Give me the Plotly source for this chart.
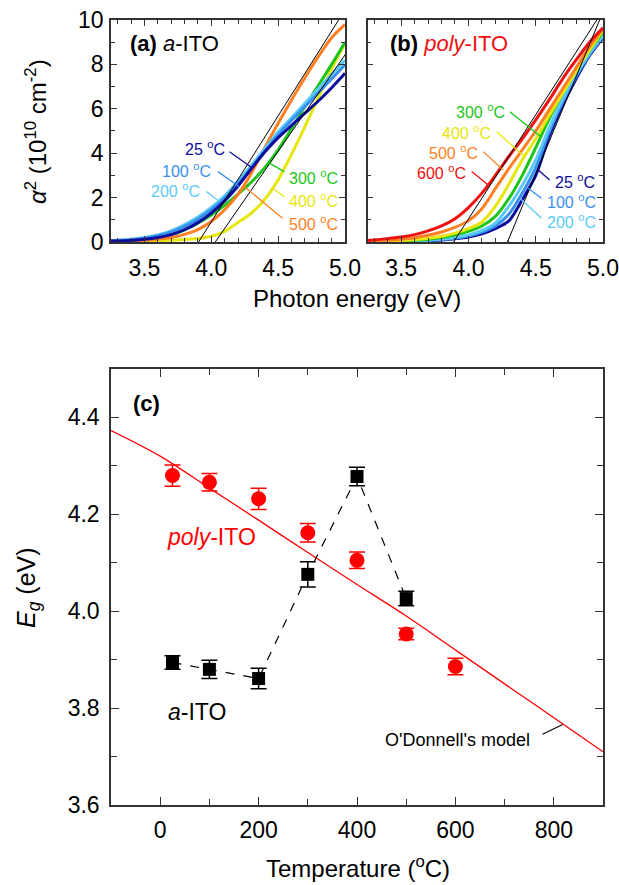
import plotly.graph_objects as go

# ---------------- data ----------------
energy = [3.25, 3.4, 3.5, 3.6, 3.7, 3.8, 3.9, 4.0, 4.1, 4.2, 4.3, 4.4, 4.5, 4.6, 4.7, 4.8, 4.9, 5.0]

# (a) a-ITO, alpha^2 (1e10 cm^-2)
a_25 = [0.04, 0.07, 0.12, 0.2, 0.33, 0.55, 0.87, 1.3, 1.85, 2.52, 3.3, 4.05, 4.7, 5.25, 5.8, 6.35, 6.95, 7.6]
a_100 = [0.05, 0.1, 0.17, 0.28, 0.45, 0.7, 1.03, 1.45, 1.97, 2.62, 3.35, 4.1, 4.82, 5.48, 6.1, 6.72, 7.35, 7.98]
a_200 = [0.06, 0.12, 0.2, 0.32, 0.5, 0.78, 1.12, 1.55, 2.08, 2.75, 3.45, 4.2, 4.95, 5.6, 6.25, 6.9, 7.55, 8.2]
a_300 = [0.04, 0.08, 0.13, 0.2, 0.33, 0.55, 0.85, 1.22, 1.65, 2.15, 2.7, 3.35, 4.15, 5.1, 6.1, 7.05, 8.0, 9.0]
a_400 = [0.01, 0.02, 0.03, 0.05, 0.08, 0.11, 0.16, 0.26, 0.48, 0.88, 1.3, 1.92, 2.8, 3.95, 5.2, 6.5, 7.8, 8.95]
a_500 = [0.02, 0.04, 0.07, 0.12, 0.2, 0.34, 0.56, 0.92, 1.45, 2.15, 3.1, 4.25, 5.35, 6.4, 7.4, 8.35, 9.2, 9.8]

# (b) poly-ITO
b_25 = [0.01, 0.01, 0.02, 0.03, 0.05, 0.09, 0.14, 0.22, 0.37, 0.6, 0.95, 1.9, 3.0, 4.75, 6.15, 7.35, 8.4, 9.2]
b_100 = [0.01, 0.02, 0.03, 0.04, 0.07, 0.11, 0.17, 0.27, 0.44, 0.72, 1.25, 2.2, 3.35, 4.95, 6.3, 7.45, 8.45, 9.25]
b_200 = [0.01, 0.02, 0.03, 0.05, 0.08, 0.13, 0.2, 0.32, 0.52, 0.85, 1.6, 2.55, 3.7, 5.15, 6.45, 7.55, 8.5, 9.3]
b_300 = [0.01, 0.03, 0.05, 0.08, 0.12, 0.2, 0.32, 0.48, 0.72, 1.15, 1.95, 3.0, 4.25, 5.55, 6.7, 7.75, 8.65, 9.45]
b_400 = [0.02, 0.04, 0.07, 0.11, 0.17, 0.26, 0.4, 0.6, 0.9, 1.6, 2.6, 3.7, 4.65, 5.7, 6.7, 7.7, 8.65, 9.55]
b_500 = [0.04, 0.08, 0.12, 0.19, 0.3, 0.45, 0.66, 0.95, 1.5, 2.4, 3.3, 4.15, 5.0, 5.95, 6.9, 7.85, 8.8, 9.6]
b_600 = [0.07, 0.15, 0.22, 0.33, 0.5, 0.72, 1.05, 1.55, 2.2, 3.0, 3.85, 4.65, 5.5, 6.4, 7.35, 8.2, 9.0, 9.65]

# Tauc-type tangent fits: x-intercept (eV) and slope
a_fit_intercept = [3.905, 4.03]
a_fit_slope = [9.55, 8.69]
b_fit_intercept = [3.89, 4.29]
b_fit_slope = [9.4, 14.6]

# (c) band gap vs temperature
temp_a = [25, 100, 200, 300, 400, 500]
eg_a = [3.894, 3.880, 3.861, 4.076, 4.278, 4.026]
err_a = [0.014, 0.019, 0.021, 0.026, 0.019, 0.015]
temp_p = [25, 100, 200, 300, 400, 500, 600]
eg_p = [4.280, 4.266, 4.232, 4.162, 4.105, 3.953, 3.886]
err_p = [0.022, 0.018, 0.022, 0.019, 0.017, 0.012, 0.017]
temp_model = [-100, 0, 100, 200, 300, 400, 500, 600, 700, 800, 900]
eg_model = [4.373, 4.32, 4.254, 4.188, 4.121, 4.055, 3.99, 3.92, 3.85, 3.78, 3.71]

# ---------------- style ----------------
FONT = "Liberation Sans, Arial, sans-serif"
C = {"25": "#0c0c9c", "100": "#3890ee", "200": "#5ccaf8", "300": "#1cc41c",
     "400": "#e6e60a", "500": "#ff7f22", "600": "#f01010"}
AX = "#333333"

fig = go.Figure()

def curve(x, y, col, xa, ya):
    fig.add_trace(go.Scatter(x=x, y=y, mode="lines", line=dict(color=col, width=3, shape="spline", smoothing=0.8),
                             xaxis=xa, yaxis=ya, showlegend=False, hoverinfo="skip"))

# panel (a) curves (draw order: back to front)
for lab, ys in [("400", a_400), ("300", a_300), ("500", a_500), ("200", a_200), ("100", a_100), ("25", a_25)]:
    curve(energy, ys, C[lab], "x", "y")
for e0, s in zip(a_fit_intercept, a_fit_slope):
    fig.add_trace(go.Scatter(x=[e0, 5.1], y=[0, s * (5.1 - e0)], mode="lines", line=dict(color="black", width=1),
                             xaxis="x", yaxis="y", showlegend=False, hoverinfo="skip"))

# panel (b) curves
for lab, ys in [("25", b_25), ("100", b_100), ("200", b_200), ("300", b_300), ("400", b_400), ("500", b_500), ("600", b_600)]:
    curve(energy, ys, C[lab], "x2", "y2")
for e0, s in zip(b_fit_intercept, b_fit_slope):
    fig.add_trace(go.Scatter(x=[e0, 5.1], y=[0, s * (5.1 - e0)], mode="lines", line=dict(color="black", width=1),
                             xaxis="x2", yaxis="y2", showlegend=False, hoverinfo="skip"))

# panel (c)
fig.add_trace(go.Scatter(x=temp_model, y=eg_model, mode="lines", line=dict(color="#ff0000", width=1.3, shape="spline"),
                         xaxis="x3", yaxis="y3", showlegend=False))
fig.add_trace(go.Scatter(x=temp_a, y=eg_a, mode="lines", line=dict(color="black", width=1.2, dash="dash"),
                         xaxis="x3", yaxis="y3", showlegend=False))
fig.add_trace(go.Scatter(x=temp_p, y=eg_p, mode="markers",
                         marker=dict(symbol="circle", size=15, color="#ff0000"),
                         error_y=dict(type="data", array=err_p, color="#ff0000", thickness=1.5, width=8),
                         xaxis="x3", yaxis="y3", showlegend=False))
fig.add_trace(go.Scatter(x=temp_a, y=eg_a, mode="markers",
                         marker=dict(symbol="square", size=13, color="black"),
                         error_y=dict(type="data", array=err_a, color="black", thickness=1.5, width=8),
                         xaxis="x3", yaxis="y3", showlegend=False))

# ---------------- axes ----------------
TF = dict(family=FONT, size=23, color="black")
common = dict(showgrid=False, zeroline=False, showline=True, linecolor=AX, linewidth=1.5, mirror="allticks",
              ticks="inside", ticklen=6, tickwidth=1.2, tickcolor=AX, tickfont=TF, automargin=False,
              ticklabeloverflow="allow")

Y_TOP = (0.7266, 0.9774)
fig.update_layout(
    xaxis=dict(common, domain=[0.1793, 0.5574], range=[3.25, 5.0], tickvals=[3.5, 4.0, 4.5, 5.0],
               ticktext=["3.5", "4.0", "4.5", "5.0"], anchor="y", ticklabelstandoff=5,
               minor=dict(ticks="inside", ticklen=4, dtick=0.1, tick0=3.3, tickcolor=AX, tickwidth=1)),
    yaxis=dict(common, domain=list(Y_TOP), range=[0, 10], dtick=2, anchor="x", ticklabelstandoff=1,
               minor=dict(ticks="inside", ticklen=4, dtick=1, tickcolor=AX, tickwidth=1)),
    xaxis2=dict(common, domain=[0.5937, 0.9742], range=[3.25, 5.0], tickvals=[3.5, 4.0, 4.5, 5.0],
                ticktext=["3.5", "4.0", "4.5", "5.0"], anchor="y2", ticklabelstandoff=5,
                minor=dict(ticks="inside", ticklen=4, dtick=0.1, tick0=3.3, tickcolor=AX, tickwidth=1)),
    yaxis2=dict(common, domain=list(Y_TOP), range=[0, 10], dtick=2, anchor="x2", showticklabels=False,
                minor=dict(ticks="inside", ticklen=4, dtick=1, tickcolor=AX, tickwidth=1)),
    xaxis3=dict(common, domain=[0.1793, 0.9742], range=[-100, 900], tickvals=[0, 200, 400, 600, 800],
                anchor="y3", ticklabelstandoff=4, ticklen=8,
                minor=dict(ticks="inside", ticklen=6, dtick=100, tick0=0, tickcolor=AX, tickwidth=1)),
    yaxis3=dict(common, domain=[0.0904, 0.5831], range=[3.6, 4.5], tickvals=[3.6, 3.8, 4.0, 4.2, 4.4],
                ticktext=["3.6", "3.8", "4.0", "4.2", "4.4"], anchor="x3", ticklen=8, ticklabelstandoff=5,
                minor=dict(ticks="inside", ticklen=6, dtick=0.1, tick0=3.6, tickcolor=AX, tickwidth=1)),
    width=619, height=885, margin=dict(l=0, r=0, t=0, b=0, autoexpand=False),
    paper_bgcolor="white", plot_bgcolor="white", showlegend=False,
    font=dict(family=FONT, color="black"),
)

ann = []
shapes = []

def label(x, y, text, col, xa, ya, anchor, size=16):
    ann.append(dict(x=x, y=y, xref=xa, yref=ya, text=text, showarrow=False, xanchor=anchor, yanchor="middle",
                    font=dict(family=FONT, size=size, color=col)))

def leader(x0, y0, x1, y1, col, xa, ya, w=1.3):
    shapes.append(dict(type="line", x0=x0, y0=y0, x1=x1, y1=y1, xref=xa, yref=ya, line=dict(color=col, width=w)))

deg = " <sup>o</sup>C"
# panel (a) labels
label(3.377, 8.92, "<b>(a)</b> <i>a</i>-ITO", "black", "x", "y", "left", 22)
label(4.115, 4.23, "25" + deg, C["25"], "x", "y", "right")
label(4.01, 3.24, "100" + deg, C["100"], "x", "y", "right")
label(3.928, 2.34, "200" + deg, C["200"], "x", "y", "right")
label(4.568, 2.93, "300" + deg, C["300"], "x", "y", "left")
label(4.568, 1.89, "400" + deg, C["400"], "x", "y", "left")
label(4.568, 0.86, "500" + deg, C["500"], "x", "y", "left")
leader(4.136, 4.06, 4.31, 3.32, C["25"], "x", "y")
leader(4.049, 3.17, 4.21, 2.49, C["100"], "x", "y")
leader(3.963, 2.27, 4.062, 1.82, C["200"], "x", "y")
leader(4.546, 3.17, 4.434, 3.55, C["300"], "x", "y")
leader(4.546, 2.04, 4.458, 2.42, C["400"], "x", "y")
leader(4.533, 1.07, 4.248, 2.49, C["500"], "x", "y")

# panel (b) labels
label(3.403, 8.92, "<b>(b)</b> <span style='color:#f01010'><i>poly</i>-ITO</span>", "black", "x2", "y2", "left", 22)
label(4.283, 5.9, "300" + deg, C["300"], "x2", "y2", "right")
label(4.182, 4.95, "400" + deg, C["400"], "x2", "y2", "right")
label(4.085, 4.05, "500" + deg, C["500"], "x2", "y2", "right")
label(3.996, 3.15, "600" + deg, C["600"], "x2", "y2", "right")
label(4.627, 2.75, "25" + deg, C["25"], "x2", "y2", "left")
label(4.567, 1.85, "100" + deg, C["100"], "x2", "y2", "left")
label(4.567, 0.95, "200" + deg, C["200"], "x2", "y2", "left")
leader(4.308, 5.87, 4.543, 4.72, C["300"], "x2", "y2")
leader(4.209, 4.97, 4.419, 3.84, C["400"], "x2", "y2")
leader(4.11, 4.07, 4.258, 3.24, C["500"], "x2", "y2")
leader(4.024, 3.17, 4.147, 2.57, C["600"], "x2", "y2")
leader(4.604, 2.79, 4.518, 3.24, C["25"], "x2", "y2")
leader(4.543, 1.97, 4.443, 2.42, C["100"], "x2", "y2")
leader(4.543, 1.07, 4.382, 1.97, C["200"], "x2", "y2")

# panel (c) labels
label(-28, 4.429, "<b>(c)</b>", "black", "x3", "y3", "center", 22)
label(105, 4.1526, "<i>poly</i>-ITO", "#ff0000", "x3", "y3", "center", 23)
label(75, 3.792, "<i>a</i>-ITO", "black", "x3", "y3", "center", 23)
label(605, 3.734, "O'Donnell's model", "black", "x3", "y3", "center", 18)
leader(777, 3.746, 818, 3.766, "black", "x3", "y3", 1.1)

# axis titles
ann.append(dict(x=36 / 619, y=1 - 132 / 885, xref="paper", yref="paper", textangle=-90, showarrow=False,
                text="<i>α</i><sup>2</sup> (10<sup>10</sup> cm<sup>-2</sup>)", xanchor="center", yanchor="middle",
                font=dict(family=FONT, size=24, color="black")))
ann.append(dict(x=357 / 619, y=1 - 299 / 885, xref="paper", yref="paper", showarrow=False,
                text="Photon energy (eV)", xanchor="center", yanchor="middle",
                font=dict(family=FONT, size=24, color="black")))
ann.append(dict(x=28 / 619, y=1 - 588 / 885, xref="paper", yref="paper", textangle=-90, showarrow=False,
                text="<i>E</i><sub><i>g</i></sub> (eV)", xanchor="center", yanchor="middle",
                font=dict(family=FONT, size=25, color="black")))
ann.append(dict(x=358 / 619, y=1 / 885, xref="paper", yref="paper", showarrow=False,
                text="Temperature (<sup>o</sup>C)", xanchor="center", yanchor="bottom",
                font=dict(family=FONT, size=24, color="black")))

fig.update_layout(annotations=ann, shapes=shapes)
fig.write_html("out.html", config={"displayModeBar": False},
               post_script="document.body.style.margin='0px';document.body.style.overflow='hidden';")
